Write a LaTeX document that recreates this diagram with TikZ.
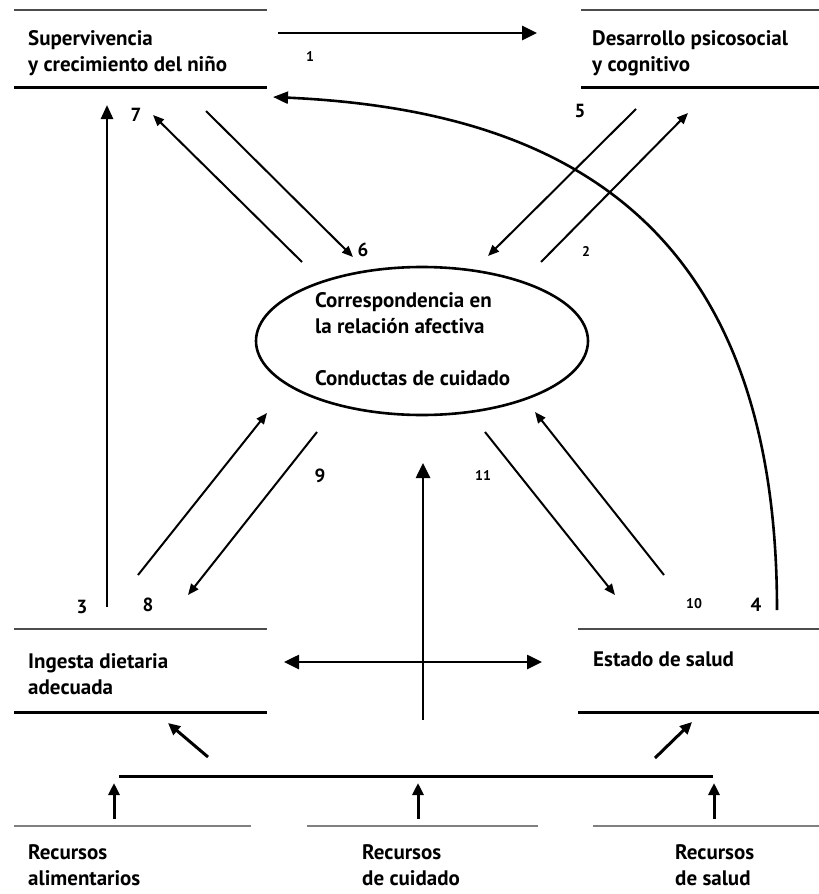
\documentclass[tikz,border=0pt]{standalone}
\usepackage{fontspec}
\setmainfont{PT Sans}
\usetikzlibrary{arrows.meta}
\newcommand{\stacklines}[1]{\begin{tabular}[t]{@{}l@{}}#1\end{tabular}}
\begin{document}
\begin{tikzpicture}[x=1pt,y=-1pt,
  txt/.style={anchor=base west, inner sep=0pt, font=\bfseries\fontsize{21}{26}\selectfont},
  num/.style={inner sep=0pt, font=\bfseries\fontsize{19}{19}\selectfont},
  snum/.style={inner sep=0pt, font=\bfseries\fontsize{14}{14}\selectfont},
  thinrule/.style={line width=1.8pt, draw=black!70},
  thickrule/.style={line width=3pt},
  resrule/.style={line width=2.4pt, draw=black!50},
  arr/.style={line width=2pt, -{Triangle[length=11pt,width=9pt]}},
  barr/.style={line width=2.6pt, -{Triangle[length=15pt,width=14pt]}},
  dbarr/.style={line width=2.6pt, {Triangle[length=15pt,width=14pt]}-{Triangle[length=15pt,width=14pt]}},
  sarr/.style={line width=3pt, -{Triangle[length=12pt,width=11pt]}},
]
\useasboundingbox (0,0) rectangle (819,894);

% ---------- boxes ----------
\draw[thinrule] (14,10) -- (267,10);
\draw[thickrule] (14,87) -- (267,87);
\node[txt] (svc) at (28,45) {\stacklines{Supervivencia\\y crecimiento del niño}};

\draw[thinrule] (581,10) -- (819,10);
\draw[thickrule] (581,87) -- (819,87);
\node[txt] (dps) at (592,45) {\stacklines{Desarrollo psicosocial\\y cognitivo}};

\draw[thinrule] (14,629) -- (267,629);
\draw[thickrule] (14,712) -- (267,712);
\node[txt] (ing) at (28,668) {\stacklines{Ingesta dietaria\\adecuada}};

\draw[thinrule] (578,629) -- (819,629);
\draw[thickrule] (578,712) -- (819,712);
\node[txt] (est) at (593,666) {Estado de salud};

% ---------- ellipse ----------
\draw[line width=2.6pt] (422,341) ellipse [x radius=166, y radius=74];
\node[txt] (ell) at (315,307) {\stacklines{Correspondencia en\\la relación afectiva\\\\Conductas de cuidado}};

% ---------- resources ----------
\draw[resrule] (14,826) -- (251,826);
\draw[resrule] (307,826) -- (538,826);
\draw[resrule] (593,826) -- (819,826);
\node[txt] (rA) at (28,859) {\stacklines{Recursos\\alimentarios}};
\node[txt] (rB) at (362,859) {\stacklines{Recursos\\de cuidado}};
\node[txt] (rC) at (675,859) {\stacklines{Recursos\\de salud}};

\coordinate (barL) at (119,776);
\coordinate (barR) at (713,776);
\draw[line width=3pt] (barL) -- (barR);
\coordinate (uA0) at (114,819); \coordinate (uA1) at (114,783);
\coordinate (uB0) at (418,819); \coordinate (uB1) at (418,783);
\coordinate (uC0) at (714,819); \coordinate (uC1) at (714,783);
\draw[sarr] (uA0) -- (uA1);
\draw[sarr] (uB0) -- (uB1);
\draw[sarr] (uC0) -- (uC1);

\coordinate (sL0) at (208,757); \coordinate (sL1) at (168,723);
\coordinate (sR0) at (655,758); \coordinate (sR1) at (692,722);
\draw[sarr] (sL0) -- (sL1);
\draw[sarr] (sR0) -- (sR1);

% ---------- central cross ----------
\coordinate (cv0) at (423,720); \coordinate (cv1) at (423,463);
\draw[barr] (cv0) -- (cv1);
\coordinate (chL) at (284,662); \coordinate (chR) at (542,662);
\draw[dbarr] (chL) -- (chR);

% ---------- top arrow 1 ----------
\coordinate (a1s) at (278,33); \coordinate (a1e) at (537,33);
\draw[barr] (a1s) -- (a1e);
\node[snum] (n1) at (310,57) {1};

% ---------- curved arrow 4 ----------
\coordinate (c4s) at (777,610); \coordinate (c4e) at (273,97);
\draw[line width=2.6pt, -{Triangle[length=15pt,width=12pt]}] (c4s) .. controls (777,220) and (560,110) .. (c4e);
\node[num] (n4) at (756,605) {4};

% ---------- arrow 3 ----------
\coordinate (a3s) at (107,607); \coordinate (a3e) at (107,105);
\draw[line width=2.6pt, -{Triangle[length=14pt,width=12pt]}] (a3s) -- (a3e);
\node[num] (n3) at (82,607) {3};

% ---------- diagonal arrows ----------
\coordinate (a7s) at (302,262); \coordinate (a7e) at (153,115);
\draw[arr] (a7s) -- (a7e);
\node[num] (n7) at (136,115) {7};

\coordinate (a6s) at (206,111); \coordinate (a6e) at (353,257);
\draw[arr] (a6s) -- (a6e);
\node[num] (n6) at (363,250) {6};

\coordinate (a5s) at (636,109); \coordinate (a5e) at (488,256);
\draw[arr] (a5s) -- (a5e);
\node[num] (n5) at (580,111) {5};

\coordinate (a2s) at (541,262); \coordinate (a2e) at (688,113);
\draw[arr] (a2s) -- (a2e);
\node[snum] (n2) at (586,251) {2};

\coordinate (a8s) at (138,575); \coordinate (a8e) at (267,413);
\draw[arr] (a8s) -- (a8e);
\node[num] (n8) at (148,605) {8};

\coordinate (a9s) at (317,432); \coordinate (a9e) at (188,595);
\draw[arr] (a9s) -- (a9e);
\node[num] (n9) at (320,476) {9};

\coordinate (a11s) at (485,432); \coordinate (a11e) at (615,595);
\draw[arr] (a11s) -- (a11e);
\node[snum] (n11) at (483,476) {11};

\coordinate (a10s) at (664,575); \coordinate (a10e) at (535,412);
\draw[arr] (a10s) -- (a10e);
\node[snum] (n10) at (694,604) {10};
\end{tikzpicture}
\end{document}
